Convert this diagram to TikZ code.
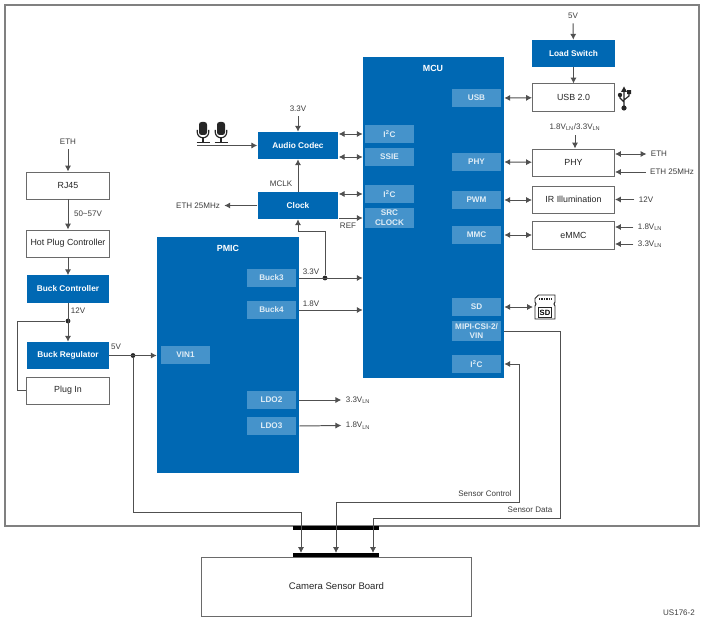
\documentclass[tikz,border=0pt]{standalone}
\usepackage{fontspec}
\setmainfont{Liberation Sans}
\usepackage{tikz}
\usetikzlibrary{shapes,positioning,arrows.meta}

\definecolor{TiBlue}{HTML}{0068B3}
\definecolor{TiPad}{HTML}{4593CB}
\definecolor{TiWire}{HTML}{505050}
\definecolor{TiEdge}{HTML}{6A6A6A}
\definecolor{TiText}{HTML}{3C3C3C}

\newcommand{\vlin}{V\textsubscript{LN}}

\tikzset{
  bluebox/.style={fill=TiBlue,text=white,font=\fontsize{5.9}{7}\selectfont\bfseries,inner sep=0pt,minimum height=0.675cm,minimum width=2.05cm},
  whitebox/.style={draw=TiEdge,line width=0.7pt,fill=white,text=black!85,font=\fontsize{6.3}{7.5}\selectfont,inner sep=0pt,minimum height=0.675cm,minimum width=2.05cm},
  padbox/.style={fill=TiPad,text=white!88!TiBlue,font=\fontsize{5.8}{7}\selectfont\bfseries,align=center,inner sep=0pt,minimum height=0.45cm,minimum width=1.225cm},
  sigtext/.style={text=TiText,font=\fontsize{5.7}{7}\selectfont,inner sep=3pt},
  wire/.style={draw=TiWire,line width=0.7pt},
  arr/.style={wire,-{Latex[length=4.2pt,width=4.4pt]}},
  dblarr/.style={wire,{Latex[length=4.2pt,width=4.4pt]}-{Latex[length=4.2pt,width=4.4pt]}},
  junction/.style={circle,fill=black!85,inner sep=0pt,minimum size=3.4pt},
  bar/.style={fill=black,inner sep=0pt,minimum height=0.1cm,minimum width=2.15cm},
  mic/.pic={
    \fill[black!85,rounded corners=1.8pt] (-4,-10) rectangle (4,3);
    \draw[black!85,line width=0.8pt] (-5.8,-2) -- (-5.8,0) arc[start angle=180,end angle=0,radius=5.8] -- (5.8,-2);
    \draw[black!85,line width=0.9pt] (0,5.8) -- (0,10) (-6.5,10.5) -- (6.5,10.5);
  }
}

\begin{document}
\begin{tikzpicture}[x=0.025cm,y=-0.025cm]
  \useasboundingbox (0,0) rectangle (704,622);
  \draw[draw=black!50,line width=0.9pt] (5,5) rectangle (699,526);

  \node[whitebox] at (68,185.5) (rj45) {RJ45};
  \node[whitebox] at (68,243.5) (hotplug) {Hot Plug Controller};
  \node[bluebox]  at (68,289)   (buckctrl) {Buck Controller};
  \node[bluebox]  at (68,355.5) (buckreg) {Buck Regulator};
  \node[whitebox] at (68,390.5) (plugin) {Plug In};

  \node[bluebox,minimum width=2.02cm] at (298,145.5) (audio) {Audio Codec};
  \node[bluebox,minimum width=2.02cm] at (298,205.5) (clock) {Clock};

  \node[bluebox,minimum width=3.55cm,minimum height=5.9cm] at (228,355) (pmic) {};
  \node[text=white,font=\fontsize{6.3}{7.5}\selectfont\bfseries] at (228,248) (pmictitle) {PMIC};
  \node[padbox] at (271.5,278) (buck3) {Buck3};
  \node[padbox] at (271.5,310) (buck4) {Buck4};
  \node[padbox] at (185.5,355) (vin1) {VIN1};
  \node[padbox] at (271.5,400) (ldo2) {LDO2};
  \node[padbox] at (271.5,426) (ldo3) {LDO3};

  \node[bluebox,minimum width=3.525cm,minimum height=8.025cm] at (433.5,217.5) (mcu) {};
  \node[text=white,font=\fontsize{6.3}{7.5}\selectfont\bfseries] at (433,68) (mcutitle) {MCU};
  \node[padbox] at (389.5,134) (i2caudio) {I\textsuperscript{2}C};
  \node[padbox] at (389.5,157) (ssie) {SSIE};
  \node[padbox] at (389.5,194) (i2cclock) {I\textsuperscript{2}C};
  \node[padbox,minimum height=0.5cm] at (389.5,218) (srcclock) {SRC\\CLOCK};
  \node[padbox] at (476.5,98)  (usbpad) {USB};
  \node[padbox] at (476.5,162) (phypad) {PHY};
  \node[padbox] at (476.5,200) (pwmpad) {PWM};
  \node[padbox] at (476.5,235) (mmcpad) {MMC};
  \node[padbox] at (476.5,307) (sdpad) {SD};
  \node[padbox,minimum height=0.5cm] at (476.5,331) (mipipad) {MIPI-CSI-2/\\VIN};
  \node[padbox] at (476.5,364) (i2csensor) {I\textsuperscript{2}C};

  \node[bluebox]  at (573.5,53.5)  (loadsw) {Load Switch};
  \node[whitebox] at (573.5,97.5)  (usb2) {USB 2.0};
  \node[whitebox] at (573.5,162.5) (phy) {PHY};
  \node[whitebox] at (573.5,199.5) (irled) {IR Illumination};
  \node[whitebox,minimum height=0.7cm] at (573.5,235) (emmc) {eMMC};
  \node[whitebox,font=\fontsize{6.8}{8}\selectfont,minimum width=6.725cm,minimum height=1.475cm] at (336.5,586.5) (camera) {Camera Sensor Board};

  \node[bar] at (336,528) (bartop) {};
  \node[bar] at (336,555) (barbot) {};

  \node[sigtext] at (68,142)    (ethin) {ETH};
  \node[sigtext] at (298,109)   (audio33) {3.3V};
  \node[sigtext] at (573,16)    (usb5v) {5V};
  \node[sigtext] at (575,127)   (phyvin) {1.8\vlin/3.3\vlin};
  \node[sigtext] at (198,206)   (clock25) {ETH 25MHz};
  \node[sigtext] at (659,154)   (phyeth) {ETH};
  \node[sigtext] at (672,172)   (phy25) {ETH 25MHz};
  \node[sigtext] at (646,199.5) (ir12v) {12V};
  \node[sigtext] at (650,227)   (emmc18) {1.8\vlin};
  \node[sigtext] at (650,244)   (emmc33) {3.3\vlin};
  \node[sigtext] at (358,400)   (ldo2out) {3.3\vlin};
  \node[sigtext] at (358,425.5) (ldo3out) {1.8\vlin};

  \node[sigtext] at (88,214)    (poe) {50\textasciitilde57V};
  \node[sigtext] at (78,311)    (volt12) {12V};
  \node[sigtext] at (116,347)   (volt5) {5V};
  \node[sigtext] at (281,184)   (mclk) {MCLK};
  \node[sigtext] at (348,226)   (refclk) {REF};
  \node[sigtext] at (311,272)   (volt33) {3.3V};
  \node[sigtext] at (311,304)   (volt18) {1.8V};
  \node[sigtext] at (485,494)   (sensctrl) {Sensor Control};
  \node[sigtext] at (530,510)   (sensdata) {Sensor Data};
  \node[sigtext] at (679,613)   (figid) {US176-2};

  \node[junction] at (68,321)    (split12) {};
  \node[junction] at (133,355.5) (split5) {};
  \node[junction] at (325,278)   (split33) {};

  \coordinate (micin) at (197,145.5);
  \coordinate (sdcard) at (533,307);
  \coordinate (campower) at (301,553);
  \coordinate (camctrl) at (336,553);
  \coordinate (camdata) at (373,553);

  \draw[arr] (ethin) -- (rj45);
  \draw[arr] (rj45) -- (hotplug);
  \draw[arr] (hotplug) -- (buckctrl);
  \draw[arr] (buckctrl) -- (buckreg);
  \draw[wire] (split12) -- (17,321) |- (plugin);
  \draw[arr] (buckreg) -- (buckreg -| pmic.west);
  \draw[arr] (split5) |- (301,512) -- (campower);

  \draw[arr] (audio33) -- (audio);
  \draw[arr] (micin) -- (audio);
  \draw[arr] (clock) -- (audio);
  \draw[arr] (clock) -- (clock -| clock25.east);
  \draw[dblarr] (i2caudio -| audio.east) -- (i2caudio -| mcu.west);
  \draw[dblarr] (ssie -| audio.east) -- (ssie -| mcu.west);
  \draw[dblarr] (i2cclock -| clock.east) -- (i2cclock -| mcu.west);
  \draw[arr] (srcclock -| clock.east) -- (srcclock -| mcu.west);

  \draw[arr] (buck3 -| pmic.east) -- (buck3 -| mcu.west);
  \draw[arr] (split33) |- (298,231) -- (clock);
  \draw[arr] (buck4 -| pmic.east) -- (buck4 -| mcu.west);
  \draw[arr] (ldo2 -| pmic.east) -- (ldo2out.west);
  \draw[arr] (ldo3 -| pmic.east) -- (ldo3out.west);

  \draw[arr] (usb5v) -- (loadsw);
  \draw[arr] (loadsw) -- (usb2);
  \draw[arr] (phyvin) -- (phyvin |- phy.north);
  \draw[dblarr] (usbpad -| mcu.east) -- (usb2);
  \draw[dblarr] (phypad -| mcu.east) -- (phy);
  \draw[dblarr] (pwmpad -| mcu.east) -- (pwmpad -| irled.west);
  \draw[dblarr] (mmcpad -| mcu.east) -- (emmc);
  \draw[dblarr] (sdpad -| mcu.east) -- (sdcard);
  \draw[dblarr] (phyeth.west -| phy.east) -- (phyeth.west);
  \draw[arr] (phy25.west) -- (phy25.west -| phy.east);
  \draw[arr] (ir12v.west) -- (ir12v.west -| irled.east);
  \draw[arr] (emmc18.west) -- (emmc18.west -| emmc.east);
  \draw[arr] (emmc33.west) -- (emmc33.west -| emmc.east);

  \draw[dblarr] (i2csensor -| mcu.east) -- (519,364) |- (336,502) -- (camctrl);
  \draw[arr] (mipipad -| mcu.east) -- (560,331) |- (373,518) -- (camdata);

  \pic at (203,132) {mic};
  \pic at (221,132) {mic};

  \fill[black!85] (624,86.5) -- (627,92) -- (621,92) -- cycle;
  \draw[black!85,line width=0.8pt] (624,91) -- (624,108) (620,95) -- (620,98) -- (624,102) (629,92) -- (629,96) -- (624,100);
  \fill[black!85] (624,108) circle (2.6) (620,95) circle (2.2) (627,90.2) rectangle (631,94.2);

  \draw[black!85,line width=0.7pt,fill=white] (538.5,295) -- (555,295) -- (555,302) -- (554,304) -- (555,306) -- (555,319) -- (535,319) -- (535,306) -- (536,304) -- (535,302) -- (535,298.5) -- cycle;
  \draw[black!85,line width=1.4pt,dash pattern=on 0.7pt off 0.5pt] (539,299) -- (552,299);
  \node[draw=black!85,line width=0.7pt,inner sep=0pt,minimum width=0.32cm,minimum height=0.25cm,font=\fontsize{5.4}{6}\selectfont\bfseries] at (545,312.5) (sdtext) {SD};
\end{tikzpicture}
\end{document}
